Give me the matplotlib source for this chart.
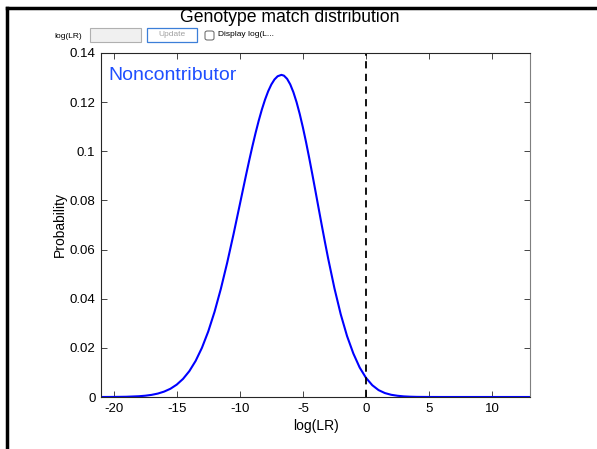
import matplotlib
matplotlib.use("Agg")
import matplotlib.pyplot as plt
from matplotlib.patches import Rectangle, FancyBboxPatch
from matplotlib.lines import Line2D

# Data
log_lr = [-21, -20, -19, -18, -17.5, -17, -16.5, -16, -15.5, -15, -14.5, -14, -13.5,
          -13, -12.5, -12, -11.5, -11, -10.5, -10, -9.75, -9.5, -9.25, -9, -8.75,
          -8.5, -8.25, -8, -7.75, -7.5, -7.25, -7, -6.7, -6.5, -6.25, -6, -5.75,
          -5.5, -5.25, -5, -4.75, -4.5, -4.25, -4, -3.75, -3.5, -3.25, -3, -2.5,
          -2, -1.5, -1, -0.5, 0, 0.5, 1, 1.5, 2, 2.5, 3, 3.5, 4, 5, 6, 13]
prob = [0.0000, 0.00003, 0.0001, 0.00031, 0.00052, 0.00086, 0.00139, 0.00219,
        0.00335, 0.00503, 0.00736, 0.01052, 0.01469, 0.02003, 0.02667, 0.03469,
        0.04405, 0.05464, 0.06618, 0.07830, 0.08440, 0.09046, 0.09637, 0.10206,
        0.10745, 0.11246, 0.11701, 0.12102, 0.12444, 0.12719, 0.12924, 0.13054,
        0.13110, 0.13078, 0.12948, 0.12721, 0.12402, 0.11998, 0.11518, 0.10973,
        0.10374, 0.09732, 0.09060, 0.08370, 0.07673, 0.06980, 0.06301, 0.05644,
        0.04426, 0.03365, 0.02480, 0.01770, 0.01200, 0.00780, 0.00480, 0.00280,
        0.00160, 0.00090, 0.00050, 0.00025, 0.00012, 0.00005, 0.00001, 0.0, 0.0]
threshold = 0
xticks = [-20, -15, -10, -5, 0, 5, 10]
yticks = [0, 0.02, 0.04, 0.06, 0.08, 0.1, 0.12, 0.14]
ytick_labels = ["0", "0.02", "0.04", "0.06", "0.08", "0.1", "0.12", "0.14"]

plt.rcParams['font.family'] = ['Liberation Sans', 'DejaVu Sans']

fig = plt.figure(figsize=(5.97, 4.49), dpi=100)
ax = fig.add_axes([101/597, 1-397/449, (530-101)/597, (397-53)/449])

ax.plot(log_lr, prob, color='#0000ff', lw=1.5, solid_joinstyle='round')
ax.plot([threshold, threshold], [0, 0.14], color='black', lw=1.3, ls=(0, (4, 3)))

ax.set_xlim(-21, 13)
ax.set_ylim(0, 0.14)
ax.set_xticks(xticks)
ax.set_xticklabels([str(t) for t in xticks])
ax.set_yticks(yticks)
ax.set_yticklabels(ytick_labels)
ax.tick_params(direction='in', top=True, right=True, labelsize=9.5, length=4,
               color='#262626', width=0.6, pad=4)
for s in ax.spines.values():
    s.set_color('#262626')
    s.set_linewidth(0.8)
ax.spines['right'].set_color('#7f7f7f')
ax.set_xlabel('log(LR)', fontsize=10, labelpad=3)
ax.set_ylabel('Probability', fontsize=10, labelpad=2)
ax.text(0.018, 0.958, 'Noncontributor', transform=ax.transAxes, color='#1f4fff',
        fontsize=14, ha='left', va='top')

fig.text(290/597, 1-18/449, 'Genotype match distribution', fontsize=12.7,
         ha='center', va='center')

# Figure border (top and left)
fig.add_artist(Line2D([7/597, 1], [1-8/449, 1-8/449], color='black', lw=2.5,
                      transform=fig.transFigure))
fig.add_artist(Line2D([7/597, 7/597], [0, 1-8/449], color='black', lw=2.5,
                      transform=fig.transFigure))

# UI controls
fig.text(68/597, 1-36/449, 'log(LR)', fontsize=6, ha='center', va='center')
fig.add_artist(Rectangle((90/597, 1-42/449), 51/597, 14/449, transform=fig.transFigure,
                         facecolor='#f0f0f0', edgecolor='#b0b0b0', lw=0.8))
fig.add_artist(Rectangle((147/597, 1-42/449), 50/597, 14/449, transform=fig.transFigure,
                         facecolor='white', edgecolor='#3c7fd8', lw=0.9))
fig.text(172/597, 1-35/449, 'Update', fontsize=6, ha='center', va='center', color='#a0a0a0')
fig.add_artist(FancyBboxPatch((205/597, 1-40/449), 9/597, 9/449, transform=fig.transFigure,
                              boxstyle='round,pad=0,rounding_size=0.004',
                              facecolor='white', edgecolor='#606060', lw=0.7))
fig.text(218/597, 1-35/449, 'Display log(L...', fontsize=6, ha='left', va='center')

fig.savefig('out.png', dpi=100)
